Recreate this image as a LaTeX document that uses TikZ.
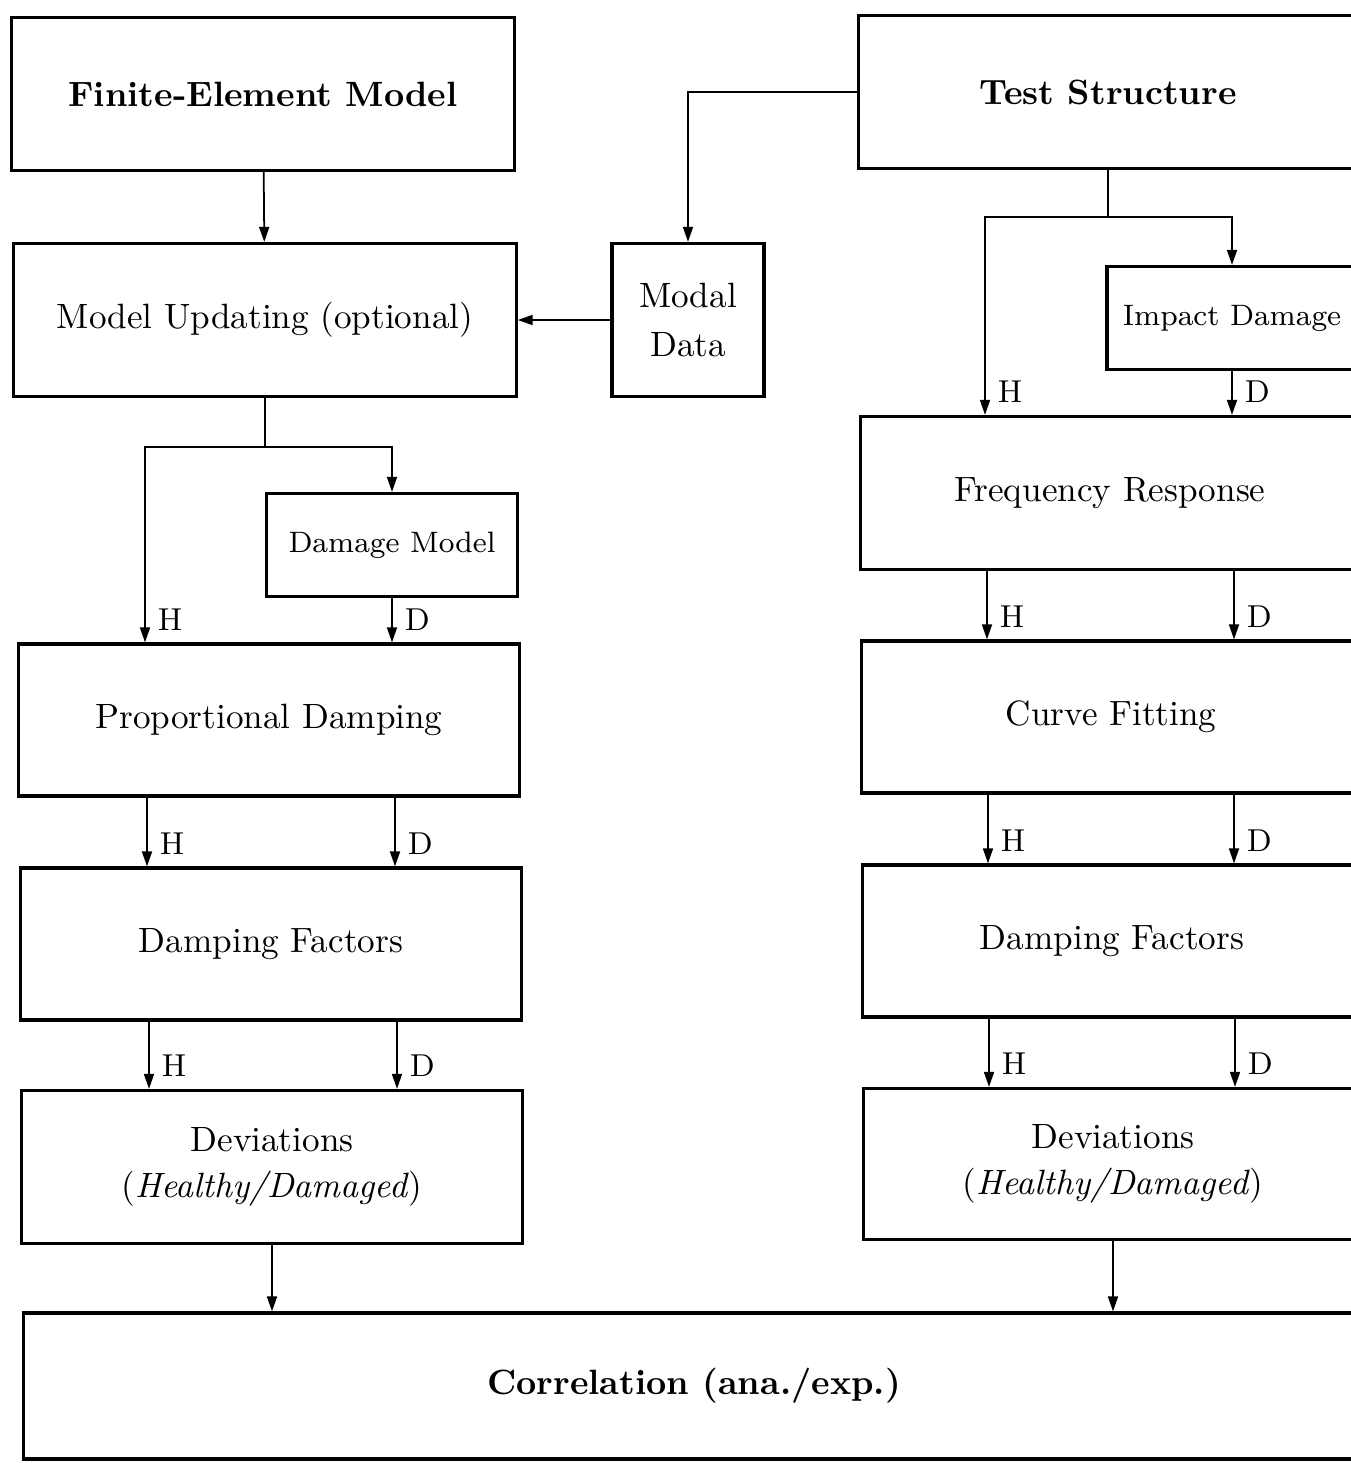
\documentclass[tikz,border=0pt]{standalone}
\usepackage{tikz}
\usetikzlibrary{arrows.meta}

\begin{document}
\begin{tikzpicture}[x=0.01cm,y=-0.01cm,
    box/.style={draw,line width=0.9pt,align=center,inner sep=0pt},
    bigbox/.style={box,minimum width=5cm,minimum height=1.53cm},
    smallbox/.style={box,minimum width=2.51cm,minimum height=1.03cm,font=\fontsize{8.4}{10}\selectfont},
    arr/.style={-{Triangle[length=1.5mm,width=1mm]},line width=0.5pt},
    lab/.style={pos=1,anchor=base west,font=\small,inner sep=0pt,xshift=0.12cm,yshift=0.12cm}]
    \useasboundingbox (0,0) rectangle (1351,1463);
    % analytical side
    \node[bigbox,minimum width=5.02cm,font=\bfseries] (fem) at (263,94) {Finite-Element Model};
    \node[bigbox,minimum width=5.02cm] (upd) at (265,320) {Model Updating (optional)};
    \node[box,minimum width=1.52cm,minimum height=1.53cm] (modal) at (688,320) {Modal\\[2pt]Data};
    \node[smallbox] (dmgmod) at (392,545) {Damage Model};
    \node[bigbox,minimum height=1.52cm] (prop) at (269,720) {Proportional Damping};
    \node[bigbox,minimum height=1.52cm] (dfl) at (271,944) {Damping Factors};
    \node[bigbox] (devl) at (272,1167) {Deviations\\[1pt](\textit{Healthy/Damaged})};
    % experimental side
    \node[bigbox,minimum width=4.98cm,font=\bfseries] (test) at (1108,92) {Test Structure};
    \node[smallbox,minimum width=2.5cm] (impact) at (1232,318) {Impact Damage};
    \node[bigbox,minimum width=4.98cm] (freq) at (1110,493) {Frequency Response};
    \node[bigbox,minimum width=4.98cm,minimum height=1.52cm] (curve) at (1111,717) {Curve Fitting};
    \node[bigbox,minimum width=4.98cm,minimum height=1.52cm] (dfr) at (1112,941) {Damping Factors};
    \node[bigbox,minimum width=4.98cm,minimum height=1.51cm] (devr) at (1113,1164) {Deviations\\[1pt](\textit{Healthy/Damaged})};
    % correlation
    \node[box,minimum width=13.4cm,minimum height=1.46cm,font=\bfseries] (corr) at (694,1386) {Correlation (ana./exp.)};

    \draw[arr] (fem) -- (upd);
    \draw[arr] (test.west) -| (modal.north);
    \draw[arr] (modal) -- (upd);
    \draw (upd.south) -- ++(0,49) coordinate (splitl);
    \draw[arr] (splitl) -| (dmgmod.north);
    \draw[arr] (splitl) -| (prop.north -| 145,0) node[lab] {H};
    \draw[arr] (dmgmod.south) -- (prop.north -| dmgmod.south) node[lab] {D};
    \draw[arr] (prop.south -| 147,0) -- (dfl.north -| 147,0) node[lab] {H};
    \draw[arr] (prop.south -| 395,0) -- (dfl.north -| 395,0) node[lab] {D};
    \draw[arr] (dfl.south -| 149,0) -- (devl.north -| 149,0) node[lab] {H};
    \draw[arr] (dfl.south -| 397,0) -- (devl.north -| 397,0) node[lab] {D};
    \draw[arr] (devl.south) -- (corr.north -| devl.south);

    \draw (test.south) -- ++(0,47) coordinate (splitr);
    \draw[arr] (splitr) -| (impact.north);
    \draw[arr] (splitr) -| (freq.north -| 985,0) node[lab] {H};
    \draw[arr] (impact.south) -- (freq.north -| impact.south) node[lab] {D};
    \draw[arr] (freq.south -| 987,0) -- (curve.north -| 987,0) node[lab] {H};
    \draw[arr] (freq.south -| 1234,0) -- (curve.north -| 1234,0) node[lab] {D};
    \draw[arr] (curve.south -| 988,0) -- (dfr.north -| 988,0) node[lab] {H};
    \draw[arr] (curve.south -| 1234,0) -- (dfr.north -| 1234,0) node[lab] {D};
    \draw[arr] (dfr.south -| 989,0) -- (devr.north -| 989,0) node[lab] {H};
    \draw[arr] (dfr.south -| 1235,0) -- (devr.north -| 1235,0) node[lab] {D};
    \draw[arr] (devr.south) -- (corr.north -| devr.south);
\end{tikzpicture}
\end{document}
